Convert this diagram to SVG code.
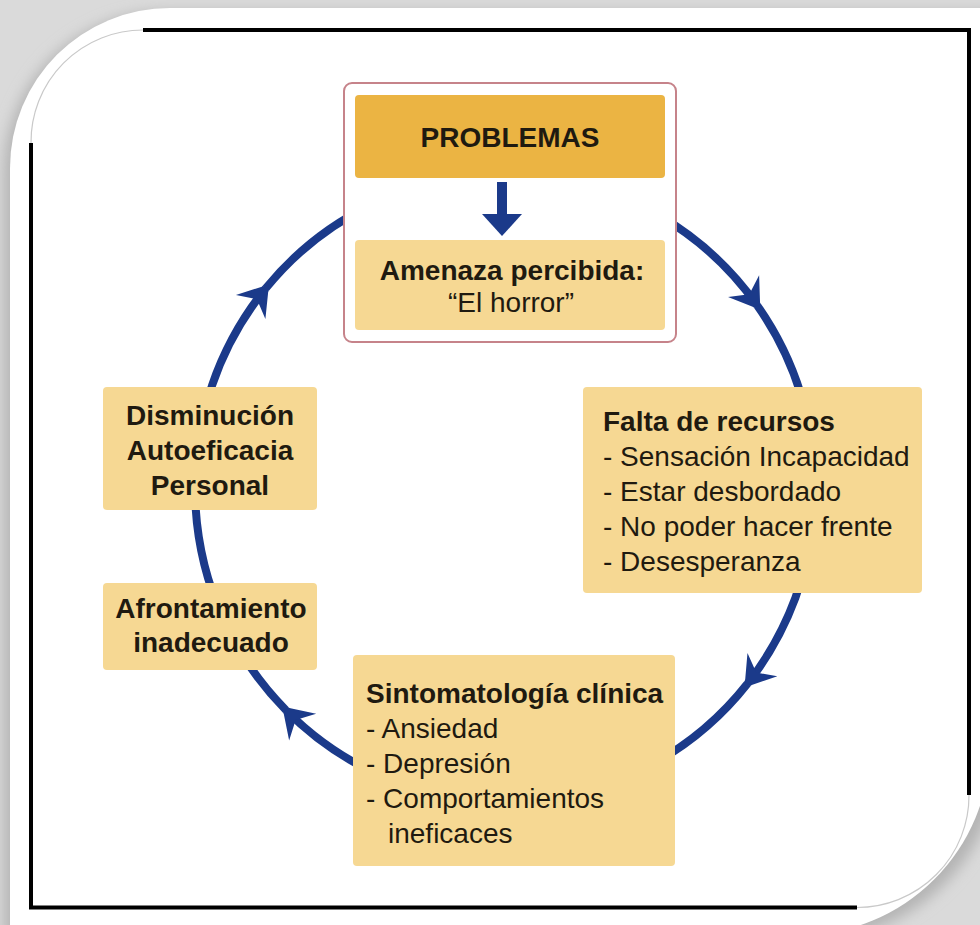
<svg xmlns="http://www.w3.org/2000/svg" width="980" height="925" viewBox="0 0 980 925">
  <style>
    .t { font-family: "Liberation Sans", Arial, Helvetica, sans-serif; font-size: 28px; fill: #1f1a10; }
    .b { font-weight: bold; }
    .mid { text-anchor: middle; }
    .box { fill: #f6d893; }
    .loop { fill: none; stroke: #1b3a8a; stroke-width: 8; marker-end: url(#head); }
    .frame { stroke: #000; stroke-width: 4; fill: none; }
    .corner { stroke: #c9c9c9; stroke-width: 1.2; fill: none; }
  </style>
  <defs>
    <marker id="head" viewBox="-32 -24 44 48" refX="0" refY="0" markerWidth="44" markerHeight="48" markerUnits="userSpaceOnUse" orient="auto">
      <path d="M5,0 L-24,-19 L-14,0 L-24,19 Z" fill="#1b3a8a"/>
    </marker>
    <filter id="soft" x="-10%" y="-10%" width="120%" height="120%">
      <feGaussianBlur stdDeviation="7"/>
    </filter>
  </defs>

  <!-- page background, card shadow and card -->
  <rect x="0" y="0" width="980" height="925" fill="#dadada"/>
  <path d="M4,172 A160,160 0 0 1 164,12 L1000,12 L1000,750 A190,190 0 0 1 810,940 L4,940 Z" fill="#b4b4b4" filter="url(#soft)"/>
  <path d="M10,168 A160,160 0 0 1 170,8 L990,8 L990,745 A190,190 0 0 1 800,935 L10,935 Z" fill="#ffffff"/>

  <!-- inner frame: straight black edges, fine rounded corners -->
  <g id="frame">
    <path class="frame" d="M143,30 L969,30 L969,795"/>
    <path class="frame" d="M31,143 L31,907.5 L857,907.5"/>
    <path class="corner" d="M31,143 A112,112 0 0 1 143,30"/>
    <path class="corner" d="M969,795 A112,112 0 0 1 857,907.5"/>
  </g>

  <!-- cycle connectors (clockwise) -->
  <g id="connectors">
    <path class="loop" d="M265.8,288.3 A310,314 0 0 1 757.4,305.7"/>
    <path class="loop" d="M757.4,305.7 A310,314 0 0 1 747.6,683.5"/>
    <path class="loop" d="M747.6,683.5 A310,314 0 0 1 285.8,710"/>
    <path class="loop" d="M285.8,710 A310,314 0 0 1 265.8,288.3"/>
  </g>

  <g id="problemas-group">
    <rect x="344" y="83" width="332" height="259" rx="8" fill="#ffffff" stroke="#c6838a" stroke-width="2"/>
  </g>

  <g id="problemas">
    <rect x="355" y="95" width="310" height="83" rx="4" fill="#ebb443"/>
    <text class="t b mid" x="510" y="147">PROBLEMAS</text>
  </g>

  <g id="flecha-problemas">
    <rect x="497" y="182" width="10" height="35" fill="#1b3a8a"/>
    <path d="M482,214 L522,214 L502,236 Z" fill="#1b3a8a"/>
  </g>

  <g id="amenaza">
    <rect class="box" x="355" y="240" width="310" height="90" rx="4"/>
    <text class="t b mid" x="512" y="280">Amenaza percibida:</text>
    <text class="t mid" x="511" y="312">“El horror”</text>
  </g>

  <g id="falta-recursos">
    <rect class="box" x="583" y="387" width="339" height="206" rx="4"/>
    <text class="t b" x="603" y="431">Falta de recursos</text>
    <text class="t" x="603" y="466">- Sensación Incapacidad</text>
    <text class="t" x="603" y="501">- Estar desbordado</text>
    <text class="t" x="603" y="536">- No poder hacer frente</text>
    <text class="t" x="603" y="571">- Desesperanza</text>
  </g>

  <g id="sintomatologia">
    <rect class="box" x="353" y="655" width="322" height="211" rx="4"/>
    <text class="t b" x="366" y="703">Sintomatología clínica</text>
    <text class="t" x="366" y="738">- Ansiedad</text>
    <text class="t" x="366" y="773">- Depresión</text>
    <text class="t" x="366" y="808">- Comportamientos</text>
    <text class="t" x="388" y="843">ineficaces</text>
  </g>

  <g id="afrontamiento">
    <rect class="box" x="103" y="583" width="214" height="87" rx="4"/>
    <text class="t b mid" x="211" y="618">Afrontamiento</text>
    <text class="t b mid" x="211" y="652">inadecuado</text>
  </g>

  <g id="autoeficacia">
    <rect class="box" x="103" y="387" width="214" height="123" rx="4"/>
    <text class="t b mid" x="210" y="425">Disminución</text>
    <text class="t b mid" x="210" y="460">Autoeficacia</text>
    <text class="t b mid" x="210" y="495">Personal</text>
  </g>
</svg>
